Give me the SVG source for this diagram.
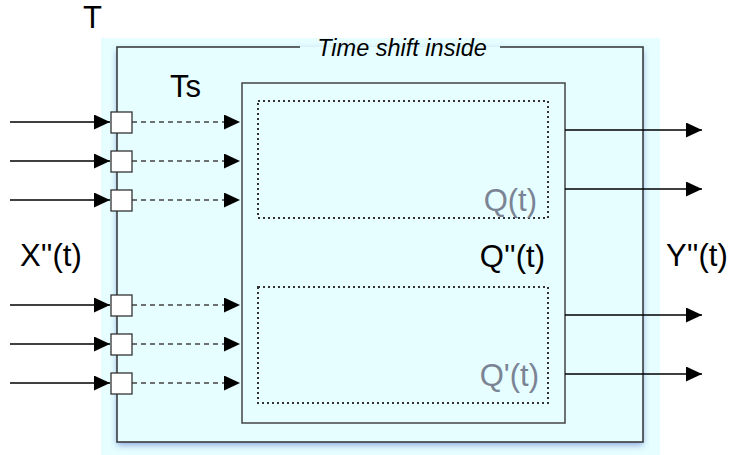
<svg xmlns="http://www.w3.org/2000/svg" width="731" height="455" viewBox="0 0 731 455">
<defs>
<style>
.lbl{font-family:"Liberation Sans",Arial,sans-serif;font-size:31px;fill:#000}
.gl{font-family:"Liberation Sans",Arial,sans-serif;font-size:31px;fill:#7b8494}
.ttl{font-family:"Liberation Sans",Arial,sans-serif;font-size:23.5px;font-style:italic;fill:#000}
.frame{fill:none;stroke:#333;stroke-width:1.5}
.box{fill:#e6feff;stroke:#444;stroke-width:1.5}
.dot{fill:none;stroke:#333;stroke-width:2;stroke-dasharray:2 3}
.port{fill:#fff;stroke:#333;stroke-width:1.3}
.sol{stroke:#000;stroke-width:1.5;fill:none}
.dsh{stroke:#444;stroke-width:1.5;stroke-dasharray:5 4;fill:none}
</style>
<marker id="ah" viewBox="0 0 16 15" refX="16" refY="7.5" markerWidth="16" markerHeight="15" markerUnits="userSpaceOnUse" orient="auto">
<path d="M0,0 L16,7.5 L0,15 z" fill="#000"/>
</marker>
<filter id="sh" x="-10%" y="-10%" width="120%" height="120%">
<feGaussianBlur in="SourceAlpha" stdDeviation="3"/>
<feOffset dx="0" dy="3" result="b"/>
<feFlood flood-color="#3050c0" flood-opacity="0.5"/>
<feComposite in2="b" operator="in"/>
<feMerge><feMergeNode/><feMergeNode in="SourceGraphic"/></feMerge>
</filter>
</defs>
<rect x="101" y="38" width="559" height="417" fill="#e6feff"/>
<g id="outer">
<rect x="117" y="47" width="526" height="395" fill="#e6feff" filter="url(#sh)"/>
<path class="frame" d="M300,47 H117 V442 H643 V47 H500"/>
<text class="ttl" x="402" y="56" text-anchor="middle">Time shift inside</text>
</g>
<g id="inner">
<rect class="box" x="242" y="83" width="323" height="340"/>
<rect class="dot" x="258" y="101" width="290" height="117"/>
<rect class="dot" x="258" y="287" width="290" height="116"/>
<text class="gl" x="537" y="211" text-anchor="end">Q(t)</text>
<text class="gl" x="539" y="386" text-anchor="end">Q'(t)</text>
<text class="lbl" x="545" y="267" text-anchor="end">Q''(t)</text>
</g>
<g id="connectors">
<path class="sol" marker-end="url(#ah)" d="M10,122 H110"/>
<path class="sol" marker-end="url(#ah)" d="M10,161 H110"/>
<path class="sol" marker-end="url(#ah)" d="M10,200 H110"/>
<path class="sol" marker-end="url(#ah)" d="M10,305 H110"/>
<path class="sol" marker-end="url(#ah)" d="M10,344 H110"/>
<path class="sol" marker-end="url(#ah)" d="M10,383 H110"/>
<path class="dsh" marker-end="url(#ah)" d="M132,122 H240"/>
<path class="dsh" marker-end="url(#ah)" d="M132,161 H240"/>
<path class="dsh" marker-end="url(#ah)" d="M132,200 H240"/>
<path class="dsh" marker-end="url(#ah)" d="M132,305 H240"/>
<path class="dsh" marker-end="url(#ah)" d="M132,344 H240"/>
<path class="dsh" marker-end="url(#ah)" d="M132,383 H240"/>
<path class="sol" marker-end="url(#ah)" d="M565,130 H702"/>
<path class="sol" marker-end="url(#ah)" d="M565,189 H702"/>
<path class="sol" marker-end="url(#ah)" d="M565,315 H702"/>
<path class="sol" marker-end="url(#ah)" d="M565,374 H702"/>
</g>
<g id="ports">
<rect class="port" x="111" y="112" width="21" height="21"/>
<rect class="port" x="111" y="151" width="21" height="21"/>
<rect class="port" x="111" y="190" width="21" height="21"/>
<rect class="port" x="111" y="295" width="21" height="21"/>
<rect class="port" x="111" y="334" width="21" height="21"/>
<rect class="port" x="111" y="373" width="21" height="21"/>
</g>
<g id="labels">
<text class="lbl" x="83" y="28">T</text>
<text class="lbl" x="170" y="97">Ts</text>
<text class="lbl" x="20" y="266">X''(t)</text>
<text class="lbl" x="666" y="266">Y''(t)</text>
</g>
</svg>
